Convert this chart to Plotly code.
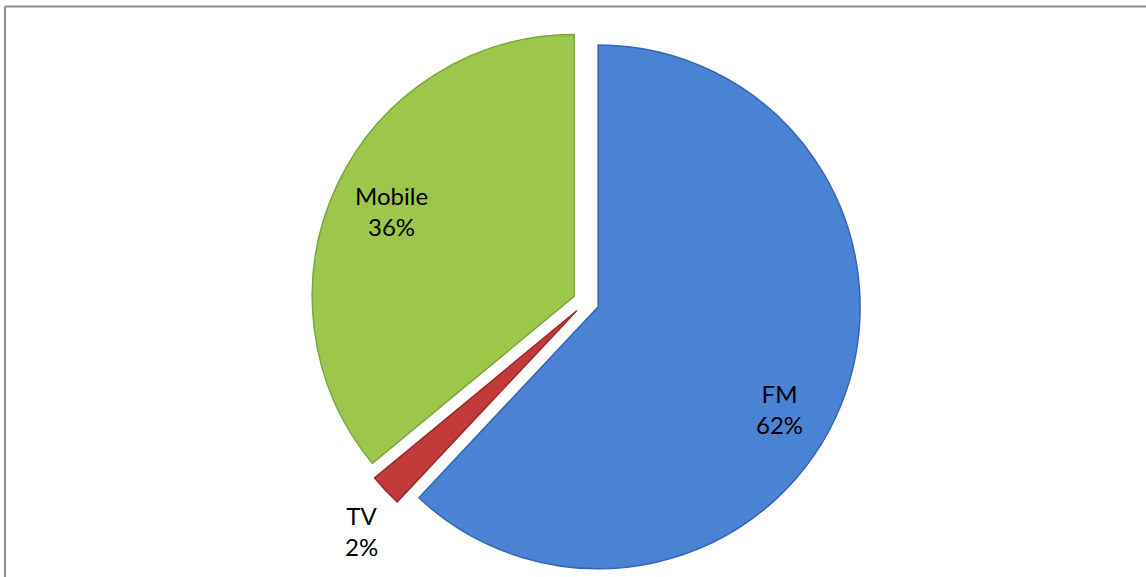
import math
import plotly.graph_objects as go

# Share of listeners by medium
labels = ["FM", "TV", "Mobile"]
values = [62, 2, 36]
colors = ["#4A82D4", "#C23B3A", "#9CC74A"]
edge_colors = ["#3566B4", "#9A2A28", "#7FA53A"]

# label placement: distance from the slice tip (fraction of radius) and a small nudge in px
label_radius = [0.78, 1.16, 0.77]
label_nudge = [(-9, 27), (7, 12), (0, 0)]

W, H = 1146, 577
PULL = 0.05

# pie box (pixels): centre and half-size of the square domain
cx, cy, half = 586, 302, 275
r = half / (1 + PULL)

fig = go.Figure(
    go.Pie(
        labels=labels,
        values=values,
        sort=False,
        direction="clockwise",
        rotation=0,
        pull=[PULL] * len(values),
        marker=dict(colors=colors, line=dict(color=edge_colors, width=1.5)),
        textinfo="none",
        domain=dict(
            x=[(cx - half) / W, (cx + half) / W],
            y=[1 - (cy + half) / H, 1 - (cy - half) / H],
        ),
        showlegend=False,
        hoverinfo="label+percent",
    )
)

# slice labels: placed along each slice's bisector, computed from the values
total = sum(values)
start = 0.0
for lab, v, k, (dx, dy) in zip(labels, values, label_radius, label_nudge):
    mid = (start + v / 2) / total * 2 * math.pi  # clockwise from 12 o'clock
    start += v
    ux, uy = math.sin(mid), -math.cos(mid)       # screen direction (y down)
    tipx, tipy = cx + PULL * r * ux, cy + PULL * r * uy
    px, py = tipx + k * r * ux + dx, tipy + k * r * uy + dy
    fig.add_annotation(
        x=px / W, y=1 - py / H, xref="paper", yref="paper",
        xanchor="center", yanchor="middle",
        text=f"{lab}<br>{round(100 * v / total)}%",
        showarrow=False, align="center",
        font=dict(family="Lato", size=24, color="#000000"),
    )

# chart frame: top and left edges
border = dict(color="#8E8E8E", width=2)
fig.add_shape(type="line", xref="paper", yref="paper",
              x0=5 / W, x1=1, y0=1 - 6.5 / H, y1=1 - 6.5 / H, line=border)
fig.add_shape(type="line", xref="paper", yref="paper",
              x0=5 / W, x1=5 / W, y0=0, y1=1 - 6.5 / H, line=border)

fig.update_layout(
    width=W,
    height=H,
    autosize=False,
    margin=dict(l=0, r=0, t=0, b=0),
    paper_bgcolor="#FFFFFF",
    plot_bgcolor="#FFFFFF",
)

fig.write_html("out.html", config={"responsive": False})
